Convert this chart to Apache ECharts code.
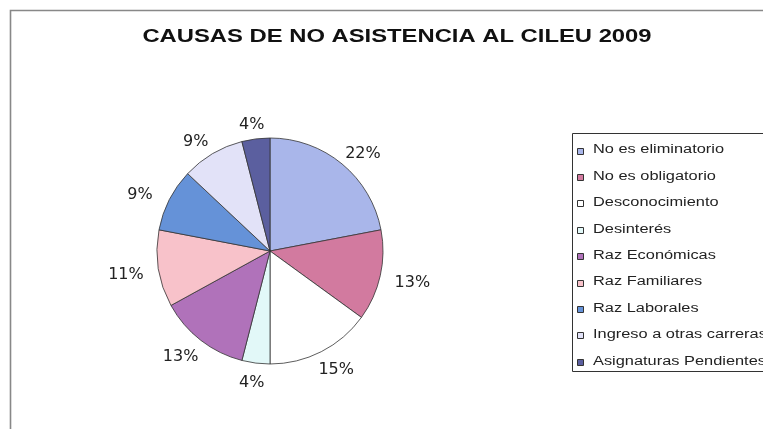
<!DOCTYPE html>
<html><head><meta charset="utf-8">
<script src="https://cdn.jsdelivr.net/npm/echarts@6/dist/echarts.min.js"></script>
<style>html,body{margin:0;padding:0;background:#fff}#c{width:763px;height:429px}</style>
</head><body><div id="c"></div>
<script>
const titleText = "CAUSAS DE NO ASISTENCIA AL CILEU 2009";
const categories = ["No es eliminatorio","No es obligatorio","Desconocimiento","Desinterés","Raz Económicas","Raz Familiares","Raz Laborales","Ingreso a otras carreras","Asignaturas Pendientes"];
const values = [22,13,15,4,13,11,9,9,4];
const colors = ["#a9b6ea","#d27a9f","#ffffff","#e2f8f8","#b072ba","#f8c2ca","#6592d8","#e2e2f8","#5b5f9f"];

const chart = echarts.init(document.getElementById('c'));
const CX = 270, CY = 251;

// legend drawn as graphic so the wide (stretched) lettering of the original can be reproduced
const legendTop = 133, legendLeft = 572, rowH = 26.4, firstRow = 150;
const legendEls = [{type:'rect',shape:{x:legendLeft+0.5,y:legendTop+0.5,width:230,height:238},
  style:{fill:'#fff',stroke:'#333',lineWidth:1},silent:true}];
categories.forEach((name,i)=>{
  const yc = firstRow + i*rowH;
  legendEls.push({type:'rect',shape:{x:legendLeft+5.5,y:Math.round(yc-2.5)+0.5,width:6,height:6},
    style:{fill:colors[i],stroke:'#333',lineWidth:1},silent:true});
  legendEls.push({type:'text',x:legendLeft+21,y:yc,scaleX:1.31,
    style:{text:name,font:'12.5px "Liberation Sans"',fill:'#222',textAlign:'left',textVerticalAlign:'middle'},silent:true});
});

chart.setOption({
  animation:false,
  backgroundColor:'#fff',
  graphic:[
    {type:'rect',shape:{x:10.5,y:10.5,width:800,height:500},style:{fill:'none',stroke:'#888',lineWidth:1.6},silent:true},
    {type:'text',x:397,y:37,scaleX:1.36,
      style:{text:titleText,font:'bold 17.5px "Liberation Sans"',fill:'#111',textAlign:'center',textVerticalAlign:'middle'},silent:true}
  ].concat(legendEls),
  series:[
    {type:'pie',center:[CX,CY],radius:113,startAngle:90,clockwise:true,
      data:categories.map((n,i)=>({name:n,value:values[i],itemStyle:{color:colors[i]}})),
      itemStyle:{borderColor:'#333',borderWidth:0.8},
      label:{show:false},labelLine:{show:false},
      emphasis:{disabled:true},silent:true
    },
    {type:'pie',center:[CX,CY],radius:[113,167],startAngle:90,clockwise:true,
      data:categories.map((n,i)=>({name:n,value:values[i]})),
      itemStyle:{color:'rgba(0,0,0,0)',borderWidth:0},
      label:{show:true,position:'inside',rotate:0,align:'center',verticalAlign:'middle',formatter:'{d}%',fontFamily:'DejaVu Sans',fontSize:16,color:'#222'},
      labelLine:{show:false},
      labelLayout:function(p){
        const r = p.labelRect;
        const mx = r.x + r.width/2, my = r.y + r.height/2;
        return {x: CX + (mx-CX)*1.02, y: CY + 3 + (my-CY)*0.91};
      },
      emphasis:{disabled:true},silent:true
    }
  ]
});
</script></body></html>
